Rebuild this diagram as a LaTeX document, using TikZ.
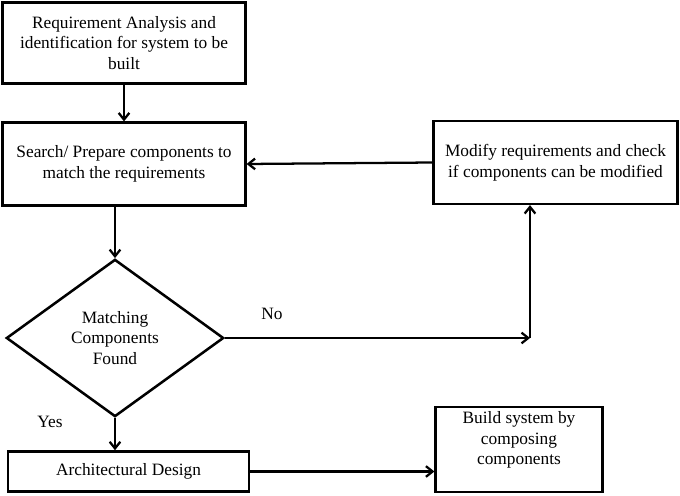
\documentclass[tikz,border=0pt]{standalone}
\usepackage{fontspec}
\setmainfont{Liberation Serif}
\usetikzlibrary{shapes.geometric,arrows.meta}

\begin{document}
\begin{tikzpicture}[x=0.75pt, y=-0.75pt, line width=1.7pt, >={Straight Barb[length=5pt, width=8pt]}]
			\tikzstyle{every node}=[align=center, inner sep=1pt, font=\fontsize{13}{15.5}\selectfont]
			\tikzstyle{box}=[draw, rectangle, line width=1.9pt]
			\tikzstyle{decision}=[draw, diamond, aspect=1.38, inner sep=0pt, line width=1.9pt]
				\useasboundingbox (0,0) rectangle (680,495);
				\node[box, minimum width=182pt, minimum height=61pt] (req) at (124, 43) {Requirement Analysis and \\ identification for system to be \\ built};
				\node[box, minimum width=182pt, minimum height=62pt] (search) at (124, 164) {Search/ Prepare components to \\ match the requirements};
				\node[box, minimum width=183pt, minimum height=62pt] (modify) at (555.5, 162.5) {Modify requirements and check \\ if components can be modified};
				\node[decision, minimum width=163pt, minimum height=118pt] (match) at (115, 338) {Matching \\ Components \\ Found};
				\node[box, minimum width=181pt, minimum height=30pt] (arch) at (128.5, 471.5) {Architectural Design};
				\node[box, minimum width=125pt, minimum height=64pt, text depth=17pt] (build) at (519, 449.5) {Build system by \\ composing \\ components};
				\node (no) at (272, 314) {No};
				\node (yes) at (50, 422) {Yes};
				\coordinate (turn) at (530, 338);
			
				\draw[->]  (req) to (search);
				\draw[->]  (search.south -| match.north) to (match.north);
				\draw[->]  (match.east) to (turn);
				\draw[->]  (turn) to (turn |- modify.south);
				\draw[->]  (modify.west) to (search.east);
				\draw[->]  (match.south) to (match.south |- arch.north);
				\draw[->]  (arch.east) to (arch.east -| build.west);
			\end{tikzpicture}
\end{document}
